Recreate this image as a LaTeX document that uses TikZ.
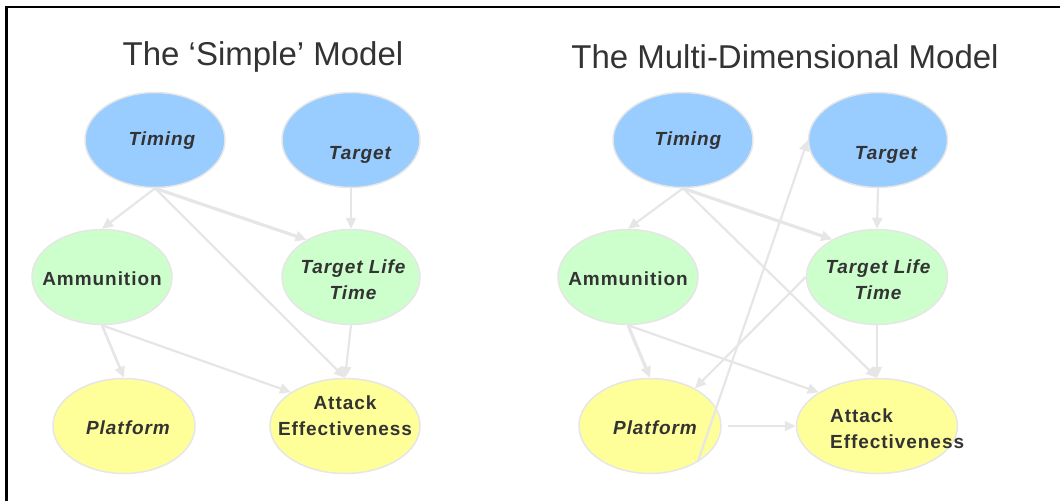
\documentclass[tikz,border=0pt]{standalone}
\usepackage{fontspec}
\setmainfont{Liberation Sans}
\usepackage{tikz}
\usetikzlibrary{arrows.meta,shapes.geometric}

\definecolor{ink}{HTML}{333333}
\definecolor{linkgray}{HTML}{E6E6E6}
\definecolor{skyfill}{HTML}{99CCFF}
\definecolor{mintfill}{HTML}{CCFFCC}
\definecolor{lemonfill}{HTML}{FFFF99}

\begin{document}
\begin{tikzpicture}[x=1pt,y=-1pt,
  oval/.style={ellipse,draw=linkgray,line width=1.5pt,minimum width=140pt,minimum height=95pt,inner sep=0pt},
  lbl/.style={text=ink,align=center,inner sep=0pt,
    font=\fontsize{19}{26}\selectfont\bfseries\addfontfeature{LetterSpace=5}},
  itl/.style={lbl,font=\fontsize{19}{26}\selectfont\bfseries\itshape\addfontfeature{LetterSpace=5}},
  heading/.style={text=ink,font=\fontsize{33}{40}\selectfont},
  lnk/.style={draw=linkgray,line width=2.2pt,-{Triangle[length=11pt,width=10pt]}}]
\useasboundingbox (0,0) rectangle (1060,501);

% The frame
\draw[line width=2.5pt] (6.3,501) -- (6.3,7) -- (1060,7);

% The 'Simple' model
\node[heading] (head1) at (263,57) {The ‘Simple’ Model};
\node[oval,fill=skyfill] (tim1) at (155,140) {};
\node[itl] (tim1x) at (162,141) {Timing};
\node[oval,fill=skyfill,minimum width=138pt] (tgt1) at (351,140) {};
\node[itl] (tgt1x) at (360,155) {Target};
\node[oval,fill=mintfill] (amm1) at (102,277) {};
\node[lbl] (amm1x) at (102,279) {Ammunition};
\node[oval,fill=mintfill,minimum width=138pt] (tlt1) at (351,277) {};
\node[itl] (tlt1x) at (353,280) {Target Life\\Time};
\node[oval,fill=lemonfill,minimum width=142pt] (plt1) at (124,426) {};
\node[itl] (plt1x) at (128,428) {Platform};
\node[oval,fill=lemonfill,minimum width=150pt] (ae1) at (345,426) {};
\node[lbl] (ae1x) at (345,416) {Attack\\Effectiveness};

% The links
\draw[lnk] (tim1.south) -- (amm1.north);
\draw[lnk,line width=3.2pt] (tim1.south) -- (tlt1.140);
\draw[lnk] (tim1.south) -- (ae1.north);
\draw[lnk] (tgt1.south) -- (tlt1.north);
\draw[lnk,line width=2.6pt] (amm1.south) -- (plt1.north);
\draw[lnk] (amm1.south) -- (ae1.148);
\draw[lnk] (tlt1.south) -- (ae1.north);

% The multi-dimensional model
\node[heading] (head2) at (785,57) {The Multi-Dimensional Model};
\node[oval,fill=skyfill] (tim2) at (683,140) {};
\node[itl] (tim2x) at (688,141) {Timing};
\node[oval,fill=skyfill,minimum width=139pt] (tgt2) at (878,140) {};
\node[itl] (tgt2x) at (886,155) {Target};
\node[oval,fill=mintfill] (amm2) at (628,277) {};
\node[lbl] (amm2x) at (628,279) {Ammunition};
\node[oval,fill=mintfill,minimum width=141pt] (tlt2) at (877,277) {};
\node[itl] (tlt2x) at (878,280) {Target Life\\Time};
\node[oval,fill=lemonfill,minimum width=142pt] (plt2) at (650,426) {};
\node[itl] (plt2x) at (655,428) {Platform};
\node[oval,fill=lemonfill,minimum width=161pt] (ae2) at (877,426) {};
\node[lbl,align=left,anchor=west] (ae2x) at (830,429) {Attack\\Effectiveness};

% The links
\draw[lnk] (tim2.south) -- (amm2.north);
\draw[lnk,line width=3.2pt] (tim2.south) -- (tlt2.140);
\draw[lnk] (tim2.south) -- (ae2.north);
\draw[lnk] (tgt2.south) -- (tlt2.north);
\draw[lnk,line width=3.2pt] (amm2.south) -- (plt2.north);
\draw[lnk] (amm2.south) -- (ae2.150);
\draw[lnk] (tlt2.south) -- (ae2.north);
\draw[lnk] (tlt2.west) -- (plt2.40);
\draw[lnk] (plt2.-37) -- (tgt2.west);
\draw[lnk,shorten <=6pt] (plt2.east) -- (ae2.west);
\end{tikzpicture}
\end{document}
